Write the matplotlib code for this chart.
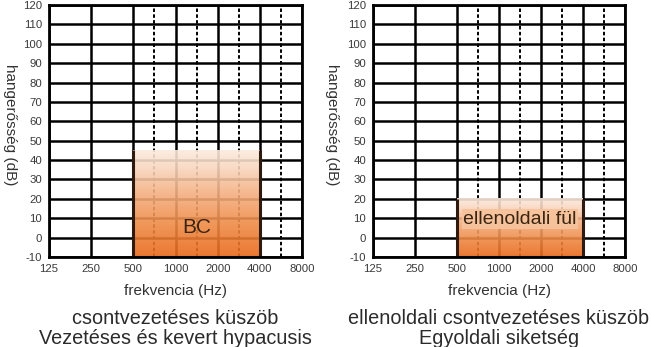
import numpy as np
import matplotlib
matplotlib.use("Agg")
import matplotlib.pyplot as plt
from matplotlib.colors import LinearSegmentedColormap

# ---- data ----
freq_labels = ["125", "250", "500", "1000", "2000", "4000", "8000"]
half_octave_after = ["500", "1000", "2000", "4000"]   # dashed lines between these and next octave
db_ticks = list(range(-10, 130, 10))

panel_titles = [
    ["csontvezetéses küszöb", "Vezetéses és kevert hypacusis"],
    ["ellenoldali csontvezetéses küszöb", "Egyoldali siketség"],
]
region_freq = [("500", "4000"), ("500", "4000")]
region_db = [(-10, 45), (-10, 20)]
region_text = ["BC", "ellenoldali fül"]

xlabel = "frekvencia (Hz)"
ylabel = "hangerősség (dB)"

W, H = 651, 347
fig = plt.figure(figsize=(W / 100, H / 100), dpi=100)
plt.rcParams['font.family'] = ['Liberation Sans', 'DejaVu Sans']

cmap = LinearSegmentedColormap.from_list(
    "og", [(0.0, "#e9681a"), (0.3, "#ef8a45"), (0.6, "#f4b083"), (0.85, "#f9d9c2"), (1.0, "#fcebdf")])

axes_px = [(49, 5, 302, 257), (373, 5, 625, 257)]
ylabel_x = [10, 332]

for i, (x0, y0, x1, y1) in enumerate(axes_px):
    ax = fig.add_axes([x0 / W, 1 - y1 / H, (x1 - x0) / W, (y1 - y0) / H])
    n = len(freq_labels)
    ax.set_xlim(0, n - 1)
    ax.set_ylim(db_ticks[0], db_ticks[-1])
    ax.set_xticks(range(n))
    ax.set_xticklabels(freq_labels)
    ax.set_yticks(db_ticks)
    ax.set_yticklabels([str(v) for v in db_ticks])
    ax.tick_params(length=0, labelsize=8.2, colors="#3a3a3a", pad=5)
    for s in ax.spines.values():
        s.set_linewidth(2.0)
        s.set_color("black")
        s.set_zorder(6)
    # grid
    for k in range(n):
        ax.axvline(k, color="black", lw=1.8, zorder=1)
    for f in half_octave_after:
        k = freq_labels.index(f) + 0.5
        ax.axvline(k, color="black", lw=1.4, ls=(0, (1.8, 1.2)), zorder=1)
    for v in db_ticks:
        ax.axhline(v, color="black", lw=1.8, zorder=1)
    # gradient region
    fa, fb = region_freq[i]
    xa, xb = freq_labels.index(fa), freq_labels.index(fb)
    ya, yb = region_db[i]
    grad = np.linspace(0, 1, 256).reshape(-1, 1)
    ax.imshow(grad, extent=[xa, xb, ya, yb], origin="lower", aspect="auto",
              cmap=cmap, alpha=0.9, zorder=2, interpolation="bicubic")
    ax.plot([xa, xa, xb, xb], [yb, ya, ya, yb], color="#2e1a0e", lw=2.2, zorder=4,
            solid_capstyle="butt", solid_joinstyle="miter")
    if i == 0:
        ax.text((xa + xb) / 2, 5, region_text[i], ha="center", va="center",
                fontsize=15, color="#3a2412", zorder=5)
    else:
        ax.text((xa + xb) / 2, 9.5, region_text[i], ha="center", va="center",
                fontsize=14, color="#3a2412", zorder=5,
                bbox=dict(facecolor="#f6c39c", edgecolor="none", pad=1.0, alpha=0.95))
    cx = (x0 + x1) / 2
    fig.text(cx / W, 1 - 291 / H, xlabel, ha="center", va="center",
             fontsize=11, color="#333333")
    fig.text(ylabel_x[i] / W, 1 - 125 / H, ylabel, ha="center", va="center",
             rotation=270, fontsize=11, color="#333333")
    fig.text(cx / W, 1 - 324 / H, panel_titles[i][0], ha="center", va="baseline",
             fontsize=14.3, color="#2b2b2b")
    fig.text(cx / W, 1 - 344 / H, panel_titles[i][1], ha="center", va="baseline",
             fontsize=14.3, color="#2b2b2b")

fig.savefig("out.png", dpi=100)
